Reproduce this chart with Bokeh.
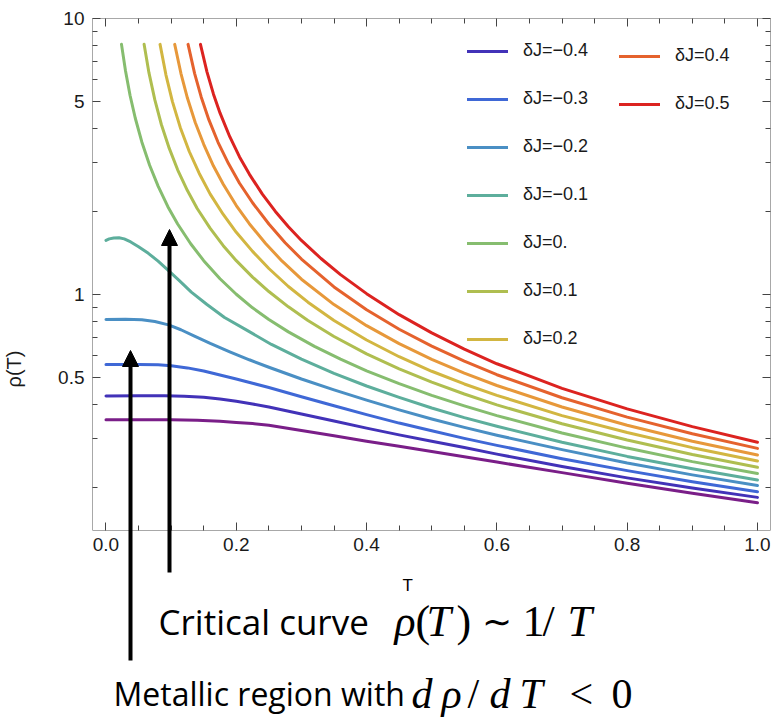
from bokeh.plotting import figure
from bokeh.models import (Range1d, LinearAxis, LogAxis, FixedTicker, Legend, LegendItem,
                          Arrow, NormalHead, Label, NumeralTickFormatter, CustomLabelingPolicy)
from bokeh.embed import file_html
from bokeh.resources import INLINE

# Resistivity rho(T) for several couplings dJ (log scale)
t_m05 = [0.0, 0.05, 0.10, 0.14, 0.175, 0.20, 0.225, 0.25, 0.30, 0.35, 0.40, 0.45, 0.50, 0.55, 0.60, 0.70, 0.80, 0.90, 1.0]
rho_m05 = [0.352, 0.352, 0.352, 0.350, 0.347, 0.344, 0.3405, 0.336, 0.3215, 0.3077, 0.294, 0.2817, 0.270, 0.2584, 0.247, 0.2262, 0.207, 0.1905, 0.176]

t_m04 = [0.0, 0.05, 0.09, 0.12, 0.15, 0.175, 0.20, 0.225, 0.25, 0.30, 0.35, 0.40, 0.45, 0.50, 0.55, 0.60, 0.70, 0.80, 0.90, 1.0]
rho_m04 = [0.429, 0.430, 0.430, 0.428, 0.424, 0.418, 0.410, 0.401, 0.391, 0.369, 0.348, 0.328, 0.310, 0.294, 0.279, 0.264, 0.238, 0.2165, 0.199, 0.184]

t_m03 = [0.0, 0.05, 0.08, 0.10, 0.125, 0.15, 0.175, 0.20, 0.225, 0.25, 0.30, 0.35, 0.40, 0.45, 0.50, 0.55, 0.60, 0.70, 0.80, 0.90, 1.0]
rho_m03 = [0.558, 0.558, 0.556, 0.552, 0.542, 0.528, 0.511, 0.494, 0.477, 0.460, 0.426, 0.395, 0.367, 0.342, 0.321, 0.301, 0.284, 0.254, 0.230, 0.2096, 0.193]

t_m02 = [0.0, 0.03, 0.055, 0.075, 0.096, 0.115, 0.135, 0.16, 0.19, 0.22, 0.25, 0.30, 0.35, 0.40, 0.45, 0.50, 0.55, 0.60, 0.70, 0.80, 0.90, 1.0]
rho_m02 = [0.812, 0.813, 0.810, 0.798, 0.776, 0.745, 0.708, 0.665, 0.620, 0.580, 0.545, 0.494, 0.451, 0.414, 0.382, 0.354, 0.330, 0.309, 0.274, 0.245, 0.222, 0.203]

t_m01 = [0.0, 0.005, 0.012, 0.02, 0.028, 0.038, 0.05, 0.065, 0.08, 0.096, 0.113, 0.131, 0.155, 0.182, 0.218, 0.254, 0.30, 0.35, 0.40, 0.45, 0.50, 0.55, 0.60, 0.70, 0.80, 0.90, 1.0]
rho_m01 = [1.57, 1.59, 1.603, 1.605, 1.59, 1.55, 1.49, 1.41, 1.32, 1.22, 1.12, 1.02, 0.92, 0.825, 0.738, 0.659, 0.583, 0.518, 0.466, 0.424, 0.388, 0.358, 0.333, 0.2915, 0.259, 0.2336, 0.2128]

t_00 = [0.0238, 0.03, 0.037, 0.045, 0.055, 0.067, 0.08, 0.095, 0.11, 0.13, 0.15, 0.175, 0.20, 0.225, 0.25, 0.28, 0.32, 0.36, 0.40, 0.45, 0.50, 0.55, 0.60, 0.70, 0.80, 0.90, 1.0]
rho_00 = [8.06, 6.45, 5.26, 4.35, 3.57, 2.94, 2.47, 2.08, 1.80, 1.527, 1.326, 1.140, 1.002, 0.895, 0.812, 0.732, 0.6485, 0.583, 0.529, 0.475, 0.431, 0.395, 0.364, 0.315, 0.2776, 0.248, 0.2244]

t_p01 = [0.0585, 0.066, 0.075, 0.085, 0.097, 0.11, 0.125, 0.14, 0.16, 0.18, 0.20, 0.225, 0.25, 0.28, 0.31, 0.35, 0.40, 0.45, 0.50, 0.55, 0.60, 0.70, 0.80, 0.90, 1.0]
rho_p01 = [8.06, 6.35, 5.07, 4.13, 3.39, 2.83, 2.38, 2.05, 1.735, 1.503, 1.326, 1.156, 1.025, 0.902, 0.805, 0.704, 0.609, 0.538, 0.481, 0.436, 0.398, 0.340, 0.297, 0.263, 0.2364]

t_p02 = [0.083, 0.092, 0.102, 0.114, 0.128, 0.143, 0.16, 0.18, 0.20, 0.225, 0.25, 0.28, 0.31, 0.35, 0.40, 0.45, 0.50, 0.55, 0.60, 0.70, 0.80, 0.90, 1.0]
rho_p02 = [8.06, 6.25, 5.0, 4.03, 3.29, 2.75, 2.31, 1.95, 1.68, 1.433, 1.242, 1.069, 0.938, 0.805, 0.684, 0.595, 0.527, 0.474, 0.431, 0.364, 0.316, 0.2786, 0.2494]

t_p03 = [0.1055, 0.115, 0.125, 0.137, 0.15, 0.165, 0.18, 0.20, 0.22, 0.245, 0.27, 0.30, 0.35, 0.40, 0.45, 0.50, 0.55, 0.60, 0.70, 0.80, 0.90, 1.0]
rho_p03 = [8.06, 6.33, 5.15, 4.20, 3.50, 2.92, 2.51, 2.10, 1.805, 1.53, 1.323, 1.136, 0.919, 0.771, 0.664, 0.582, 0.519, 0.468, 0.391, 0.336, 0.294, 0.262]

t_p04 = [0.126, 0.136, 0.146, 0.158, 0.172, 0.188, 0.205, 0.225, 0.25, 0.275, 0.30, 0.35, 0.40, 0.45, 0.50, 0.55, 0.60, 0.70, 0.80, 0.90, 1.0]
rho_p04 = [8.06, 6.33, 5.21, 4.29, 3.56, 2.98, 2.53, 2.15, 1.80, 1.54, 1.344, 1.065, 0.880, 0.748, 0.650, 0.573, 0.512, 0.4225, 0.3595, 0.3128, 0.2769]

t_p05 = [0.145, 0.155, 0.165, 0.175, 0.19, 0.205, 0.22, 0.24, 0.26, 0.28, 0.30, 0.33, 0.36, 0.40, 0.45, 0.50, 0.55, 0.60, 0.70, 0.80, 0.90, 1.0]
rho_p05 = [8.06, 6.41, 5.32, 4.55, 3.73, 3.15, 2.73, 2.31, 2.00, 1.76, 1.57, 1.35, 1.18, 1.007, 0.845, 0.726, 0.634, 0.561, 0.457, 0.385, 0.332, 0.2915]

series_t = [t_m05, t_m04, t_m03, t_m02, t_m01, t_00, t_p01, t_p02, t_p03, t_p04, t_p05]
series_rho = [rho_m05, rho_m04, rho_m03, rho_m02, rho_m01, rho_00, rho_p01, rho_p02, rho_p03, rho_p04, rho_p05]
series_labels = ["δJ=−0.5", "δJ=−0.4", "δJ=−0.3", "δJ=−0.2", "δJ=−0.1", "δJ=0.",
                 "δJ=0.1", "δJ=0.2", "δJ=0.3", "δJ=0.4", "δJ=0.5"]
colors = ["#7a1e88", "#4232b8", "#3f68d6", "#4a8fc4", "#5dae9c", "#86bd6f",
          "#afbe50", "#d2b641", "#e7983a", "#e5622d", "#dc2320"]

x_major = [0.0, 0.2, 0.4, 0.6, 0.8, 1.0]
x_minor = [0.05, 0.1, 0.15, 0.25, 0.3, 0.35, 0.45, 0.5, 0.55, 0.65, 0.7, 0.75, 0.85, 0.9, 0.95]
y_major = [0.5, 1, 5, 10]
y_major_text = ["0.5", "1", "5", "10"]
y_minor = [0.2, 0.3, 0.4, 0.6, 0.7, 0.8, 0.9, 2, 3, 4, 6, 7, 8, 9]
y_low, y_high = 0.1396, 10.0

TICK_FONT = "Liberation Sans"
CANVAS_H = 719
FRAME_LEFT = 91

# The frame runs down to the canvas bottom so the annotations below the
# plotted region can be drawn; the x axis is pinned at the lower data limit.
p = figure(width=772, height=CANVAS_H, y_axis_type="log",
           x_range=Range1d(-0.0207, 1.02), y_range=Range1d(0.02884, y_high),
           output_backend="svg", toolbar_location=None,
           min_border_left=FRAME_LEFT, min_border_right=2, min_border_top=18, min_border_bottom=0)
p.outline_line_color = None
p.grid.visible = False
p.background_fill_color = "white"
p.border_fill_color = "white"

renderers = []
for t, r, c in zip(series_t, series_rho, colors):
    renderers.append(p.line(t, r, line_color=c, line_width=3, line_join="round", line_cap="round"))

# frame axes on top and right carry ticks only
no_labels = CustomLabelingPolicy(code="""
if (typeof indices.clear === "function") { indices.clear() }
else { for (const i of Array.from(indices)) { indices.unset(i) } }
return indices
""")

def style_axis(ax, labels=True):
    ax.axis_line_color = "#a8a8a8"
    ax.axis_line_width = 1
    ax.major_tick_line_color = "#444444"
    ax.minor_tick_line_color = "#444444"
    ax.major_tick_in = 8
    ax.major_tick_out = 0
    ax.minor_tick_in = 5
    ax.minor_tick_out = 0
    if labels:
        ax.major_label_text_font = TICK_FONT
        ax.major_label_text_font_size = "19px"
        ax.major_label_text_color = "#1a1a1a"
        ax.major_label_standoff = 8
    else:
        ax.major_label_policy = no_labels
        ax.major_label_text_font_size = "0px"
        ax.major_label_standoff = 0

x_ticker = FixedTicker(ticks=x_major, minor_ticks=x_minor)
y_ticker = FixedTicker(ticks=y_major, minor_ticks=y_minor)

xax = p.xaxis[0]
xax.ticker = x_ticker
xax.formatter = NumeralTickFormatter(format="0.0")
xax.fixed_location = y_low
style_axis(xax)

yax = p.yaxis[0]
yax.ticker = y_ticker
yax.bounds = (y_low, y_high)
yax.major_label_overrides = {v: s for v, s in zip(y_major, y_major_text)}
style_axis(yax)
yax.axis_label = "ρ(T)"
yax.axis_label_text_font = TICK_FONT
yax.axis_label_text_font_style = "normal"
yax.axis_label_text_font_size = "20px"
yax.axis_label_text_color = "#1a1a1a"
yax.axis_label_standoff = 30

top_ax = LinearAxis(ticker=x_ticker)
style_axis(top_ax, labels=False)
p.add_layout(top_ax, "above")
right_ax = LogAxis(ticker=y_ticker, bounds=(y_low, y_high))
style_axis(right_ax, labels=False)
p.add_layout(right_ax, "right")

# Legend: two columns
legend_style = dict(label_text_font=TICK_FONT, label_text_font_size="18px",
                    label_text_color="#1a1a1a", glyph_width=41, glyph_height=20,
                    label_height=20, label_standoff=15, spacing=27, padding=0, margin=0,
                    border_line_color=None, background_fill_alpha=0)
col1 = [1, 2, 3, 4, 5, 6, 7]
col2 = [9, 10]
leg1 = Legend(items=[LegendItem(label=series_labels[i], renderers=[renderers[i]]) for i in col1],
              location=(375, 370), **legend_style)
leg2 = Legend(items=[LegendItem(label=series_labels[i], renderers=[renderers[i]]) for i in col2],
              location=(527, 605), **legend_style)
p.add_layout(leg1)
p.add_layout(leg2)

def sx(px):
    return px - FRAME_LEFT

def sy(py):
    return CANVAS_H - py

# Annotation arrows
for x, y0, y1 in [(129, 660, 350), (168, 572, 229)]:
    p.add_layout(Arrow(end=NormalHead(size=16, fill_color="black", line_color="black", line_width=1),
                       x_start=sx(x), y_start=sy(y0), x_end=sx(x), y_end=sy(y1),
                       start_units="screen", end_units="screen",
                       line_color="black", line_width=4))

def add_text(x, y, text, font, size, style="normal"):
    p.add_layout(Label(x=sx(x), y=sy(y), x_units="screen", y_units="screen", text=text,
                       text_font=font, text_font_size=size, text_font_style=style,
                       text_color="black", text_baseline="alphabetic", text_align="left"))

SANS = "Open Sans"
SERIF = "Liberation Serif"
add_text(157, 621, "Critical curve", SANS, "35px")
add_text(401, 585, "T", TICK_FONT, "17px")
for x, s, st, fs in [(393, "ρ", "italic", "44px"), (414, "(", "normal", "44px"),
                     (425, "T", "italic", "44px"), (455, ")", "normal", "44px"),
                     (480, "∼", "normal", "36px"), (521, "1", "normal", "44px"),
                     (541, "/", "normal", "44px"), (566, "T", "italic", "44px")]:
    add_text(x, 621, s, SERIF, fs, st)

BOTTOM_BASE = 693
add_text(112, BOTTOM_BASE, "Metallic region with", SANS, "32px")
for x, s, st in [(410, "d", "italic"), (440, "ρ", "italic"), (466, "/", "normal"),
                 (488, "d", "italic"), (518, "T", "italic"), (568, "<", "normal"),
                 (610, "0", "normal")]:
    add_text(x, BOTTOM_BASE, s, SERIF, "42px", st)

open("out.html", "w").write(file_html(p, INLINE))
